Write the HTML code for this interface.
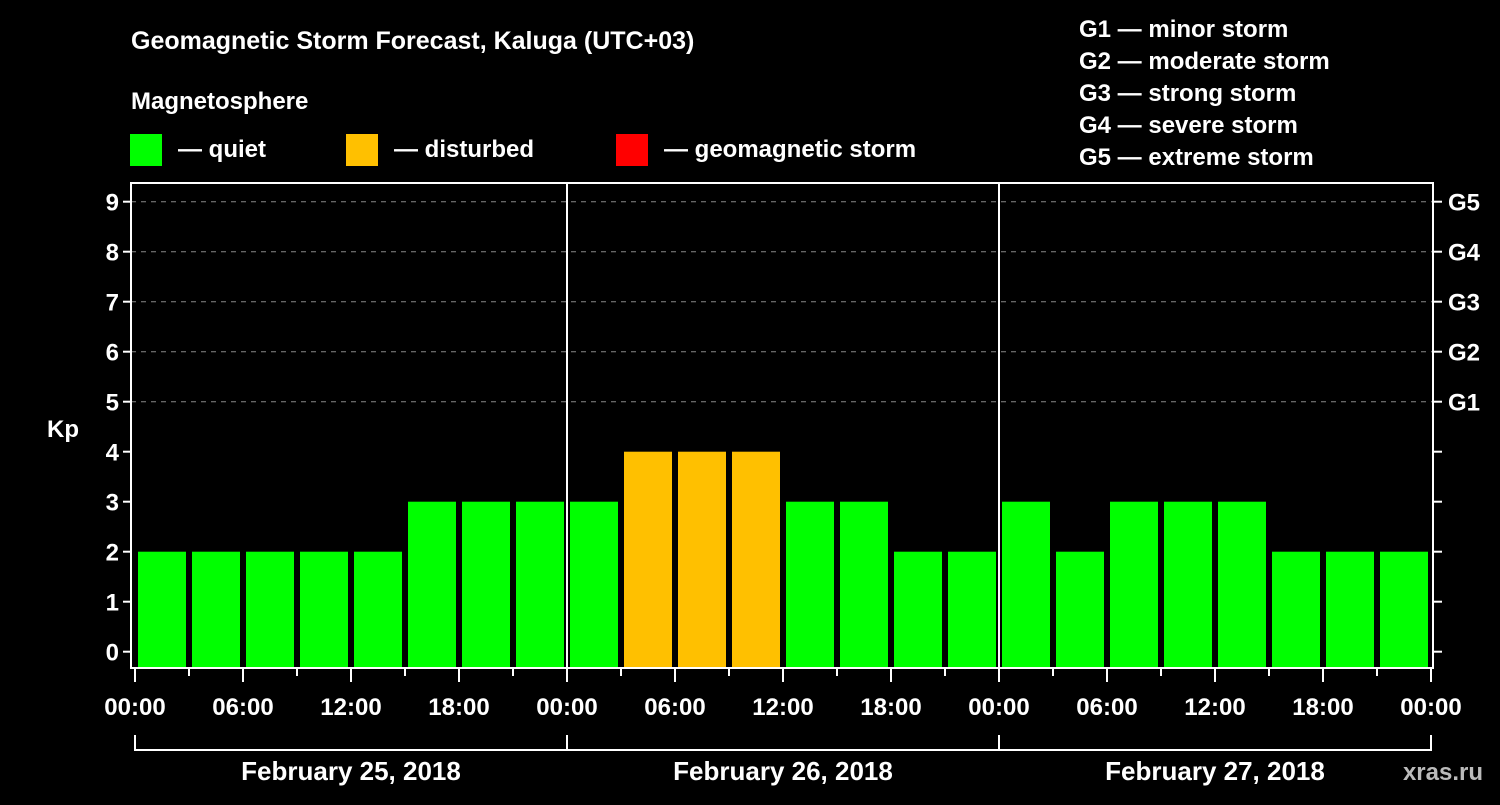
<!DOCTYPE html>
<html><head><meta charset="utf-8"><style>
body{margin:0;background:#000;width:1500px;height:800px;overflow:hidden}
svg text{font-family:"Liberation Sans",Arial,sans-serif;font-weight:bold;fill:#fff}
</style></head><body>
<svg id="chart" width="1500" height="800" xmlns="http://www.w3.org/2000/svg">
<rect width="1500" height="800" fill="#000"/>
<text x="131" y="49" font-size="25">Geomagnetic Storm Forecast, Kaluga (UTC+03)</text>
<text x="131" y="109" font-size="24">Magnetosphere</text>
<g>
<rect x="130" y="134" width="32" height="32" fill="#00ff00"/>
<text x="178" y="157" font-size="24">— quiet</text>
<rect x="346" y="134" width="32" height="32" fill="#ffc000"/>
<text x="394" y="157" font-size="24">— disturbed</text>
<rect x="616" y="134" width="32" height="32" fill="#ff0000"/>
<text x="664" y="157" font-size="24">— geomagnetic storm</text>
</g>
<g font-size="24">
<text x="1079" y="37">G1 — minor storm</text>
<text x="1079" y="69">G2 — moderate storm</text>
<text x="1079" y="101">G3 — strong storm</text>
<text x="1079" y="133">G4 — severe storm</text>
<text x="1079" y="165">G5 — extreme storm</text>
</g>
<text x="63" y="437" font-size="24" text-anchor="middle">Kp</text>
<text x="1483" y="780" font-size="24" text-anchor="end" fill="#ccc" style="fill:#bbb">xras.ru</text>
<g id="plot"></g>
</svg>
<script>
const kpValues = [2,2,2,2,2,3,3,3, 3,4,4,4,3,3,2,2, 3,2,3,3,3,2,2,2];
const dayLabels = ["February 25, 2018","February 26, 2018","February 27, 2018"];
const hourLabels = ["00:00","06:00","12:00","18:00"];
const gLabels = ["G1","G2","G3","G4","G5"];
const kpTicks = [0,1,2,3,4,5,6,7,8,9];

const NS="http://www.w3.org/2000/svg";
const plot=document.getElementById('plot');
const X0=135, SLOT=54, LEFT=131, RIGHT=1433, TOP=183, BOT=668;
const xScale=i=>X0+i*SLOT;
const yScale=v=>651.7-v*50;
function mk(tag,attrs,parent){const e=document.createElementNS(NS,tag);for(const k in attrs)e.setAttribute(k,attrs[k]);(parent||plot).appendChild(e);return e;}
function color(v){return v>=5?'#ff0000':v>=4?'#ffc000':'#00ff00';}

// gridlines
kpTicks.forEach(v=>{ if(v>=5){ const g=mk('line',{x1:LEFT,x2:RIGHT,y1:yScale(v),y2:yScale(v),stroke:'#888','stroke-dasharray':'5,5','stroke-width':1});

}});

// bars
kpValues.forEach((v,i)=>{
 const r=mk('rect',{x:xScale(i)+3,y:yScale(v),width:48,height:BOT-yScale(v),fill:color(v)});
 
 
});

// frame
const fr=mk('rect',{x:LEFT,y:TOP,width:RIGHT-LEFT,height:BOT-TOP,fill:'none',stroke:'#fff','stroke-width':2});


for(let d=1;d<dayLabels.length;d++){
 const l=mk('line',{x1:xScale(d*8),x2:xScale(d*8),y1:TOP,y2:BOT,stroke:'#fff','stroke-width':2});
 
 
}

// y ticks
kpTicks.forEach(v=>{
 const y=yScale(v);
 const t=mk('line',{x1:LEFT-8,x2:LEFT,y1:y,y2:y,stroke:'#fff','stroke-width':2});
 
 
 const t2=mk('line',{x1:RIGHT,x2:RIGHT+9,y1:y,y2:y,stroke:'#fff','stroke-width':2});
 
 
 const tx=mk('text',{x:LEFT-12,y:y+9,'font-size':24,'text-anchor':'end'});
 tx.textContent=v;
 
 
});
gLabels.forEach((g,i)=>{
 const tx=mk('text',{x:RIGHT+15,y:yScale(5+i)+9,'font-size':24});
 tx.textContent=g;
 
 
});

// x ticks
const nSlots=kpValues.length;
for(let i=0;i<=nSlots;i++){
 const x=xScale(i), major=i%2===0;
 const t=mk('line',{x1:x,x2:x,y1:BOT,y2:BOT+(major?14:8),stroke:'#fff','stroke-width':2});
 
 
 if(major){
  const tx=mk('text',{x:x,y:715,'font-size':24,'text-anchor':'middle'});
  tx.textContent=hourLabels[(i/2)%4];
  
  
 }
}
// day brackets
dayLabels.forEach((d,k)=>{
 const a=xScale(k*8), b=xScale(k*8+8);
 const p=mk('path',{d:`M${a},735V750H${b}`+(k===dayLabels.length-1?`V735`:''),fill:'none',stroke:'#fff','stroke-width':2});
 
 
 const tx=mk('text',{x:(a+b)/2,y:780,'font-size':26,'text-anchor':'middle'});
 tx.textContent=d;
 
 
});
</script>
</body></html>
